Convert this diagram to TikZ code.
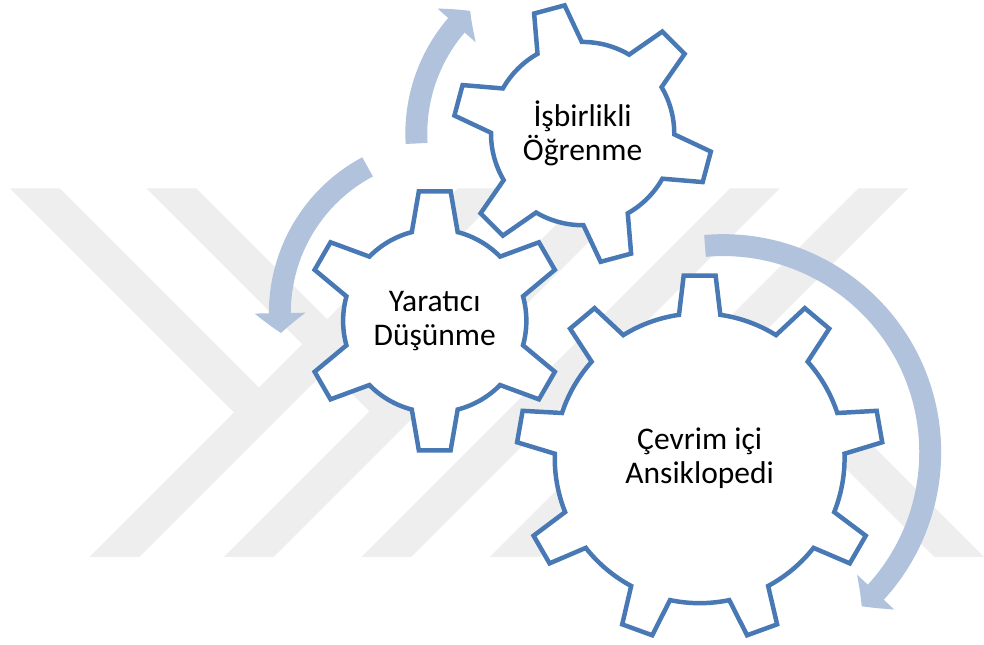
\documentclass[tikz,border=0pt]{standalone}
\usepackage{fontspec}
\setmainfont{Carlito}
\usetikzlibrary{arrows.meta,bending}

\definecolor{cogblue}{RGB}{72,121,180}
\definecolor{flowblue}{RGB}{176,194,220}
\definecolor{logogrey}{RGB}{238,238,238}

% teeth, first tooth angle, tip radius, root radius, tip half angle, root half angle
\newcommand{\cogpath}[6]{%
  ({#2-#6}:#4)
  \foreach \k in {1,...,#1}{
    -- ({#2+(\k-1)*360/#1-#5}:#3) -- ({#2+(\k-1)*360/#1+#5}:#3)
    -- ({#2+(\k-1)*360/#1+#6}:#4)
    arc[start angle={#2+(\k-1)*360/#1+#6}, end angle={#2+\k*360/#1-#6}, radius=#4]}
  -- cycle}

\begin{document}
\begin{tikzpicture}[
    x=0.2mm, y=0.2mm,
    logo/.style={fill=logogrey},
    cog/.style={draw=cogblue, line width=0.9mm, fill=white},
    flow/.style={draw=flowblue, line width=4.4mm,
                 -{Triangle[length=4mm,width=10mm,bend]}},
    caption/.style={align=center, font=\fontsize{18}{19.5}\selectfont}]

\fill[white] (0,0) rectangle (984,646);

% watermark stripes
\begin{scope}[shift={(0,646)}, yscale=-1]
\foreach \a in {90,225,363,492}
    \fill[logo] (\a,558) -- ++(50,0) -- ++(370,-370) -- ++(-50,0) -- cycle;
\fill[logo] (10,188) -- (60,188) -- (272.5,400.5) -- (247.5,425.5) -- cycle;
\fill[logo] (147,188) -- (197,188) -- (408.5,399.5) -- (383.5,424.5) -- cycle;
\fill[logo] (727.5,347.5) -- (752.5,322.5) -- (988,558) -- (938,558) -- cycle;
\end{scope}

\coordinate (c1) at (702.5,187);
\coordinate (c2) at (585,513);
\coordinate (c3) at (436.5,325);
\coordinate (a1) at (726,193);
\coordinate (a3) at (447,333);

% cycle arrows
\draw[flow, shift={(a1)}] (95:208) arc[start angle=95, end angle=-48, radius=208];
\draw[flow, shift={(c2)}] (183.4:167) arc[start angle=183.4, end angle=132.5, radius=167];
\draw[flow, shift={(a3)}] (118:166) arc[start angle=118, end angle=187, radius=166];

% gears
\draw[cog, shift={(c1)}] \cogpath{9}{90}{184}{145.5}{5}{8.2};
\draw[cog, shift={(c3)}] \cogpath{6}{90}{131}{92}{7}{14.5};
\draw[cog, shift={(c2)}] \cogpath{6}{105}{130}{92}{7}{14.5};

\node[caption] (ol) at (c1) {Çevrim içi\\Ansiklopedi};
\node[caption] (yd) at (c3) {Yaratıcı\\Düşünme};
\node[caption] (ib) at (c2) {İşbirlikli\\Öğrenme};
\end{tikzpicture}
\end{document}
